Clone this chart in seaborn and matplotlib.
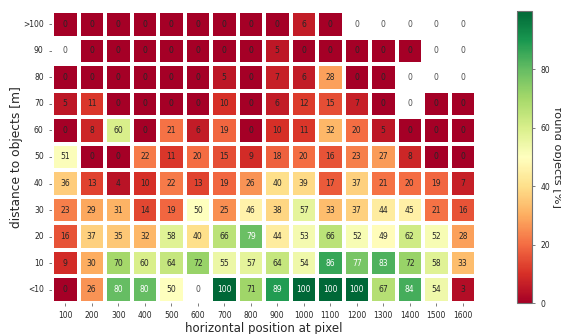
import numpy as np
import pandas as pd
import matplotlib
matplotlib.use("Agg")
import matplotlib.pyplot as plt
import seaborn as sns

nan = np.nan

# distance bins (rows, top to bottom) and horizontal pixel bins (columns)
distance_labels = [">100", "90", "80", "70", "60", "50", "40", "30", "20", "10", "<10"]
pixel_labels = ["100", "200", "300", "400", "500", "600", "700", "800",
                "900", "1000", "1100", "1200", "1300", "1400", "1500", "1600"]

# share of found objects [%] per cell; nan = no objects in that cell
found_gt100 = [0, 0, 0, 0, 0, 0, 0, 0, 0, 6, 0, nan, nan, nan, nan, nan]
found_90 = [nan, 0, 0, 0, 0, 0, 0, 0, 5, 0, 0, 0, 0, 0, nan, nan]
found_80 = [0, 0, 0, 0, 0, 0, 5, 0, 7, 6, 28, 0, 0, nan, nan, nan]
found_70 = [5, 11, 0, 0, 0, 0, 10, 0, 6, 12, 15, 7, 0, nan, 0, 0]
found_60 = [0, 8, 60, 0, 21, 6, 19, 0, 10, 11, 32, 20, 5, 0, 0, 0]
found_50 = [51, 0, 0, 22, 11, 20, 15, 9, 18, 20, 16, 23, 27, 8, 0, 0]
found_40 = [36, 13, 4, 10, 22, 13, 19, 26, 40, 39, 17, 37, 21, 20, 19, 7]
found_30 = [23, 29, 31, 14, 19, 50, 25, 46, 38, 57, 33, 37, 44, 45, 21, 16]
found_20 = [16, 37, 35, 32, 58, 40, 66, 79, 44, 53, 66, 52, 49, 62, 52, 28]
found_10 = [9, 30, 70, 60, 64, 72, 55, 57, 64, 54, 86, 77, 83, 72, 58, 33]
found_lt10 = [0, 26, 80, 80, 50, nan, 100, 71, 89, 100, 100, 100, 67, 84, 54, 3]

df = pd.DataFrame(
    [found_gt100, found_90, found_80, found_70, found_60, found_50,
     found_40, found_30, found_20, found_10, found_lt10],
    index=distance_labels, columns=pixel_labels,
)

sns.set_style("ticks")
fig = plt.figure(figsize=(5.61, 3.34), dpi=100)
ax = fig.add_axes([0.0927, 0.0928, 0.7558, 0.8743])
cax = fig.add_axes([0.9216, 0.0928, 0.0267, 0.8743])

sns.heatmap(
    df, ax=ax, cbar_ax=cax, cmap="RdYlGn", vmin=0, vmax=100,
    annot=True, fmt=".0f", annot_kws={"size": 5.5},
    linewidths=1.5, linecolor="white",
    cbar_kws={"ticks": [0, 20, 40, 60, 80]},
)

# light text only on the strongest greens
for t in ax.texts:
    v = float(t.get_text())
    t.set_color("white" if v > 75 else "#262626")

# empty cells still get a "0" label
vals = df.to_numpy()
for i in range(vals.shape[0]):
    for j in range(vals.shape[1]):
        if np.isnan(vals[i, j]):
            ax.text(j + 0.5, i + 0.5, "0", ha="center", va="center",
                    size=5.5, color="0.3")

ax.set_xlabel("horizontal position at pixel", fontsize=8.5, labelpad=1)
ax.set_ylabel("distance to objects [m]", fontsize=8.8, labelpad=0)
ax.tick_params(labelsize=5.5, length=2.5, width=0.6, color="0.4", labelcolor="#262626")
ax.set_yticklabels(distance_labels, rotation=0)
ax.set_xticklabels(pixel_labels, rotation=0)

cbar = ax.collections[0].colorbar
cax.tick_params(labelsize=5.5, length=2.5, width=0.6, color="0.4", labelcolor="#262626")
cax.set_ylabel("found objects [%]", fontsize=8.2, rotation=270, labelpad=8.5)
cbar.outline.set_visible(True)
cbar.outline.set_edgecolor("0.45")
cbar.outline.set_linewidth(0.8)

fig.savefig("out.png", dpi=100)
